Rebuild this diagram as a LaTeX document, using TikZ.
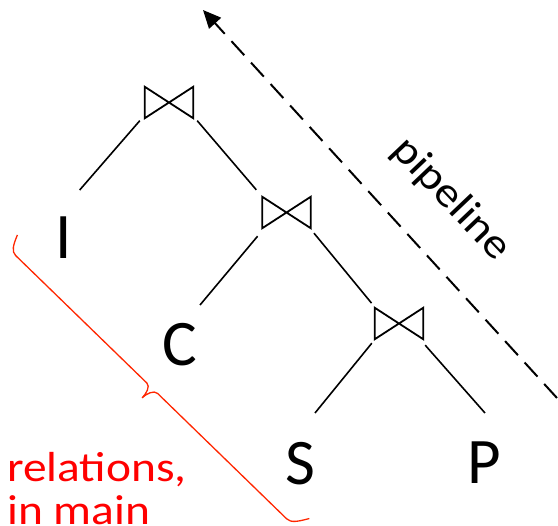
\documentclass[tikz,border=0pt]{standalone}
\usepackage{fontspec}
\setmainfont{Carlito}
\usetikzlibrary{arrows.meta,calc}
\definecolor{bracered}{RGB}{255,38,0}
\begin{document}
\begin{tikzpicture}[x=1pt,y=1pt,
  relname/.style={font=\fontsize{65}{78}\selectfont, anchor=base, inner sep=0pt},
  joinbox/.style={rectangle, minimum width=48pt, minimum height=31pt, inner sep=0pt},
  bow/.style={line width=1.8pt, line join=miter},
  edge/.style={line width=1.6pt},
  redlabel/.style={font=\fontsize{42}{48}\selectfont, text=red, anchor=base west, inner sep=0pt},
  flow/.style={line width=2pt, dash pattern=on 19pt off 10pt, -{Triangle[length=18pt,width=16pt]}}
]
\useasboundingbox (0,0) rectangle (558,-526);
% joins
\node[joinbox] (j1) at (169,-102.5) {};
\node[joinbox] (j2) at (286.5,-212.5) {};
\node[joinbox] (j3) at (399,-323.5) {};
\foreach \j in {j1,j2,j3}
  \draw[bow] (\j.north west) -- (\j.south east) -- (\j.north east) -- (\j.south west) -- cycle;
% relations
\node[relname] (I) at (63.7,-259) {I};
\node[relname] (C) at (180,-366) {C};
\node[relname] (S) at (300,-485) {S};
\node[relname] (P) at (484,-484) {P};
% edges
\draw[edge] ([shift={(-5,-2.5)}]j1.south west) -- ([shift={(16,69)}]I.base);
\draw[edge] ([shift={(4,-2.5)}]j1.south east) -- ([shift={(-6,7)}]j2.north west);
\draw[edge] ([shift={(-4.7,-8)}]j2.south west) -- ([shift={(20,61)}]C.base);
\draw[edge] ([shift={(3.3,-5)}]j2.south east) -- ([shift={(-3.3,4.7)}]j3.north west);
\draw[edge] ([shift={(-3,-4)}]j3.south west) -- ([shift={(15,72)}]S.base);
\draw[edge] ([shift={(2,-6)}]j3.south east) -- ([shift={(1,71)}]P.base);
% pipeline arrow
\coordinate (ptail) at (557,-398);
\coordinate (phead) at (203,-10);
\draw[flow] (ptail) -- (phead);
\node[font=\fontsize{42}{48}\selectfont, rotate=-46.5, inner sep=0pt] (pl) at (451,-199) {\scalebox{1.12}[1]{pipeline}};
% brace
\begin{scope}[shift={(12,-252)}, rotate=-44.17]
\draw[bracered, line width=1.3pt] (-8,16) .. controls (-4,6) and (-1,0) .. (5,0) -- (188,0)
  .. controls (193,0) and (195,-8) .. (195,-14)
  .. controls (195,-8) and (198,0) .. (203,0) -- (383,0)
  .. controls (389,0) and (393,6) .. (399,16);
\end{scope}
% red label
\node[redlabel] (rl1) at (7,-481.7) {\scalebox{1.13}[1]{relations,}};
\node[redlabel] (rl2) at (7,-525) {\scalebox{1.13}[1]{in main}};
\end{tikzpicture}
\end{document}
